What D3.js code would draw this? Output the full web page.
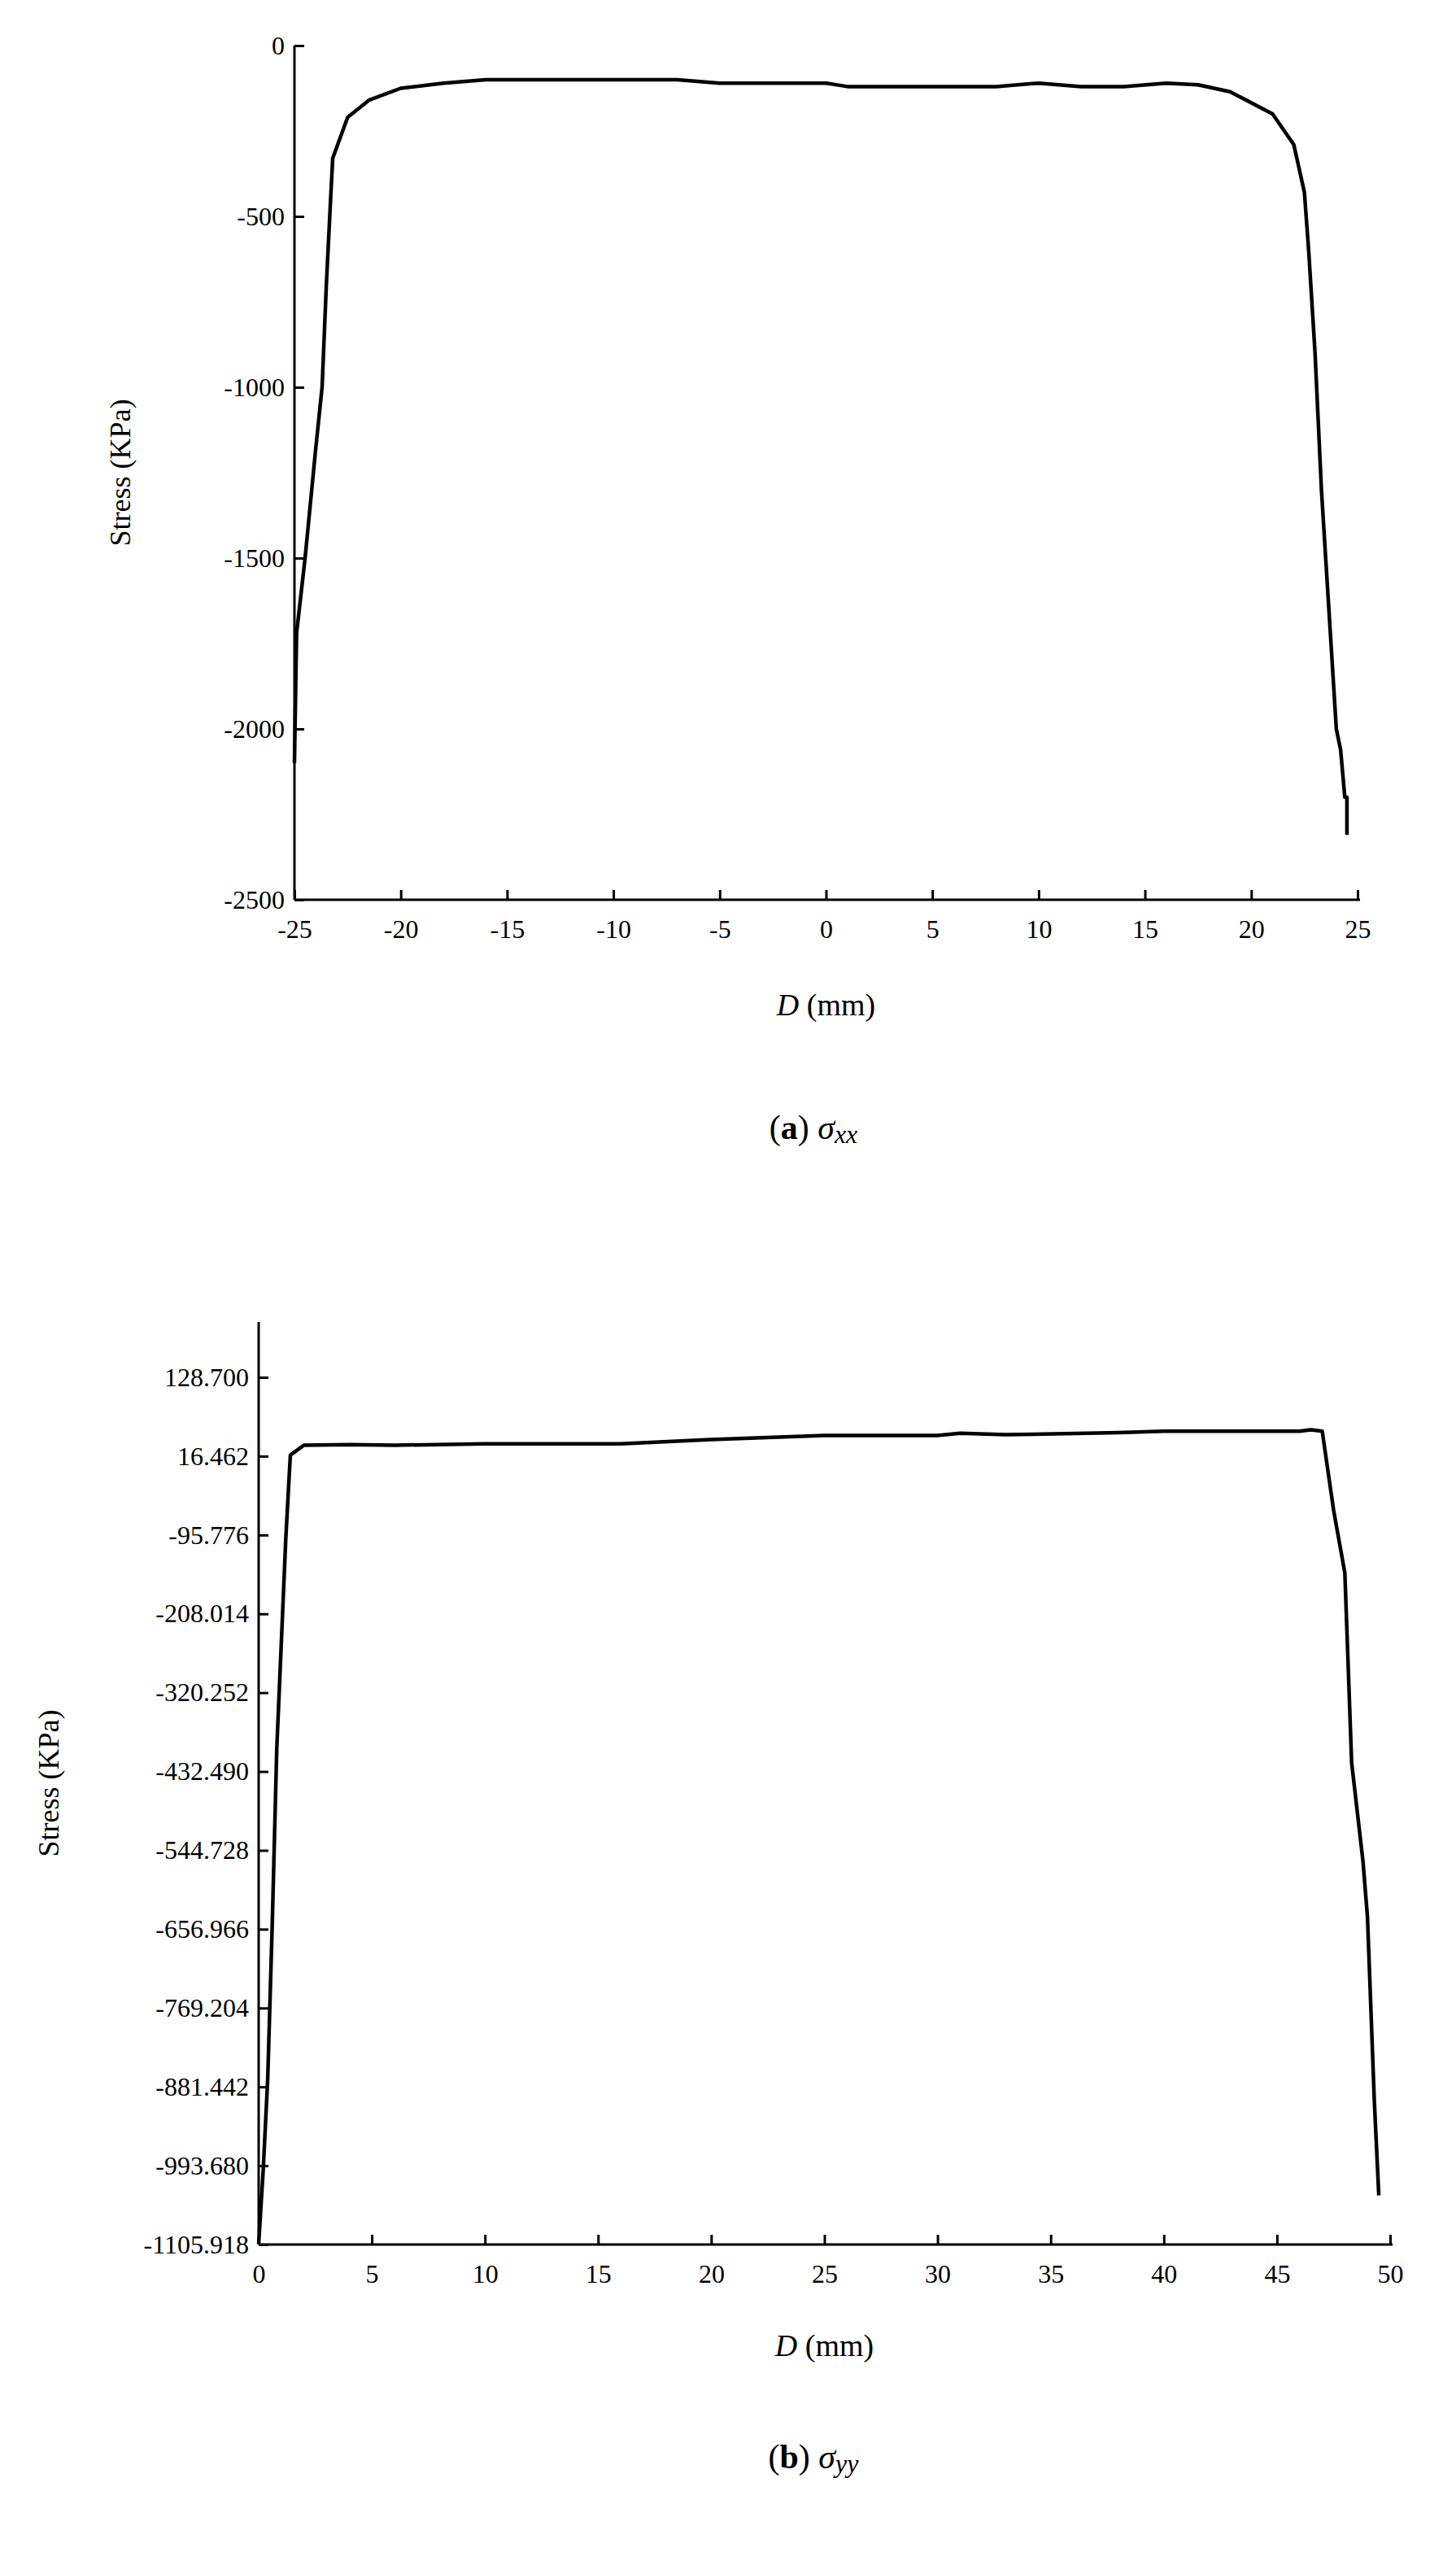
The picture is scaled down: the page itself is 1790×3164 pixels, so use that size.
<!DOCTYPE html>
<html><head><meta charset="utf-8">
<script src="https://cdn.jsdelivr.net/npm/d3@7"></script>
<style>body{margin:0;background:#fff}text{font-family:"Liberation Serif","Times New Roman",serif;fill:#000}</style>
</head><body><svg id="c" width="1790" height="3164"></svg>
<script>
const aX=[-25,-24.9,-24.5,-24,-23.7,-23.5,-23.3,-23.2,-22.5,-21.5,-20,-18,-16,-10,-7,-5,0,1,5,8,10,12,14,16,17.5,19,21,22,22.5,22.7,23,23.3,23.6,24,24.2,24.4,24.5,24.5];
const aY=[-2100,-1720,-1500,-1180,-1000,-700,-450,-330,-210,-160,-125,-110,-100,-100,-100,-110,-110,-120,-120,-120,-110,-120,-120,-110,-115,-135,-200,-290,-430,-600,-900,-1300,-1600,-2000,-2060,-2200,-2200,-2310];
const aXTicks=[-25,-20,-15,-10,-5,0,5,10,15,20,25];
const aYTicks=[0,-500,-1000,-1500,-2000,-2500];
const bX=[0,0.2,0.4,0.6,0.8,1.0,1.2,1.4,2,4,6,10,16,20,25,30,31,33,38,40,46,46.5,47,47.5,48,48.3,48.8,49,49.3,49.5];
const bY=[-1105,-1000,-870,-650,-400,-250,-100,18,32,33,32,34,34,40,46,46,49,47,50,52,52,54,52,-60,-150,-420,-560,-640,-900,-1036];
const bXTicks=[0,5,10,15,20,25,30,35,40,45,50];
const bYTicks=[128.700,16.462,-95.776,-208.014,-320.252,-432.490,-544.728,-656.966,-769.204,-881.442,-993.680,-1105.918];

const svg=d3.select("#c");
function panel(o){
  const x=d3.scaleLinear().domain(o.xd).range([o.l,o.r]);
  const y=d3.scaleLinear().domain(o.yd).range([o.b,o.t]);
  const g=svg.append("g");
  const ax=g.append("g").attr("transform",`translate(0,${o.b})`).call(d3.axisBottom(x).tickValues(o.xt).tickSize(-12).tickPadding(24).tickFormat(d=>String(d)));
  const ay=g.append("g").attr("transform",`translate(${o.l},0)`).call(d3.axisLeft(y).tickValues(o.yt).tickSize(-12).tickPadding(12).tickFormat(o.yf));
  [ax,ay].forEach(a=>{a.select(".domain").attr("stroke","#000").attr("stroke-width",3);a.selectAll(".tick line").attr("stroke","#000").attr("stroke-width",3);a.selectAll("text").attr("font-size",32).attr("font-family","Liberation Serif");});
  ay.select(".domain").attr("d",`M0,${o.t0}V${o.b}`);
  ax.select(".domain").attr("d",`M${o.l},0H${o.r+3}`);
  g.append("path").datum(o.xs.map((v,i)=>[v,o.ys[i]])).attr("fill","none").attr("stroke","#000").attr("stroke-width",4.5).attr("stroke-linejoin","round")
   .attr("d",d3.line().x(d=>x(d[0])).y(d=>y(d[1])));
  g.append("text").attr("transform",`translate(${o.yl},${(o.t+o.b)/2}) rotate(-90)`).attr("text-anchor","middle").attr("font-size",36).text("Stress (KPa)");
  const t=g.append("text").attr("x",(o.l+o.r)/2).attr("y",o.xtY).attr("text-anchor","middle").attr("font-size",38);
  t.append("tspan").attr("font-style","italic").text("D");t.append("tspan").text(" (mm)");
  const c=g.append("text").attr("x",1000).attr("y",o.cY).attr("text-anchor","middle").attr("font-size",42);
  c.append("tspan").text("(");c.append("tspan").attr("font-weight","bold").text(o.cl);c.append("tspan").text(") ");
  c.append("tspan").attr("font-style","italic").text("σ");c.append("tspan").attr("font-style","italic").attr("font-size",32).attr("dy",5).text(o.sub);
}
panel({xd:[-25,25],yd:[-2500,0],l:362,r:1669,t:56,t0:56,b:1106,xt:aXTicks,yt:aYTicks,yf:d=>String(d),xs:aX,ys:aY,yl:160,xtY:1248,cY:1400,cl:"a",sub:"xx"});
panel({xd:[0,50],yd:[-1105.918,128.7+ (1693-1625)/96.9*112.238],l:318,r:1709,t:1625,t0:1625,b:2759,xt:bXTicks,yt:bYTicks,yf:d=>d.toFixed(3),xs:bX,ys:bY,yl:72,xtY:2896,cY:3034,cl:"b",sub:"yy"});
</script></body></html>
